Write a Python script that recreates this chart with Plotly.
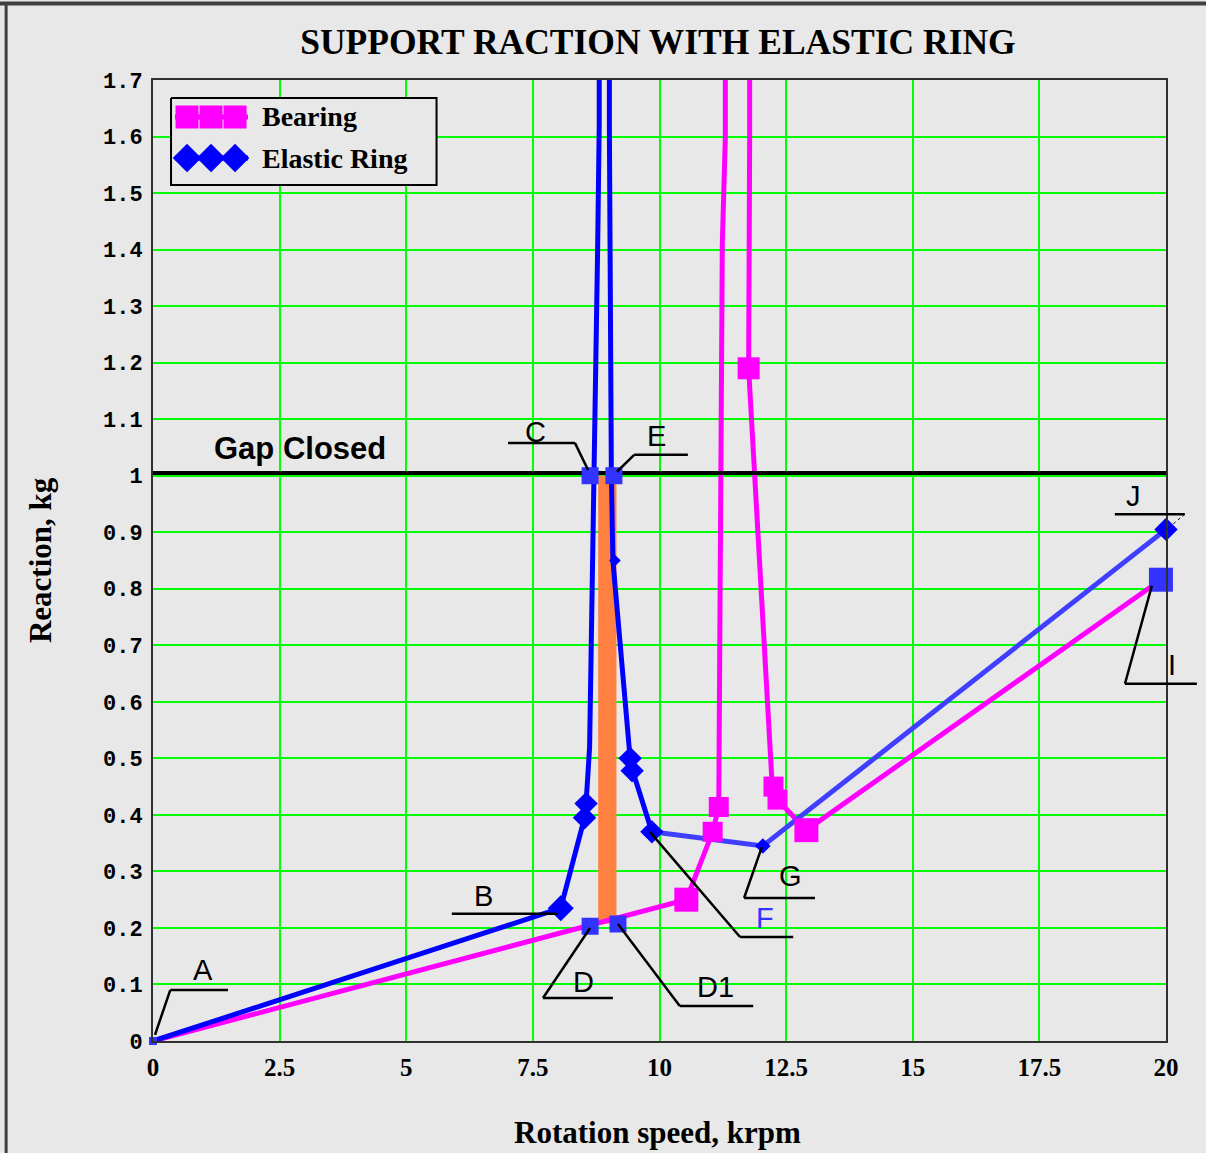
import plotly.graph_objects as go

# ---------------- data ----------------
bearing_x = [0, 10.53, 11.05, 11.17, 11.24, 11.30, 11.30, 11.78, 11.78, 11.76, 12.22, 12.25, 12.33, 12.90, 19.90]
bearing_y = [0, 0.25, 0.37, 0.414, 1.41, 1.60, 2.20, 2.20, 1.60, 1.19, 0.46, 0.45, 0.427, 0.373, 0.816]

bearing_mk_x = [10.53, 11.05, 11.17, 11.76, 12.25, 12.33, 12.90]
bearing_mk_y = [0.25, 0.37, 0.414, 1.19, 0.45, 0.427, 0.373]
bearing_mk_size = [24, 20, 20, 22, 20, 20, 24]

ring_x = [0, 8.05, 8.52, 8.55, 8.62, 8.66, 8.70, 8.74, 8.78, 8.81, 8.81, 9.01, 9.01, 9.05, 9.08, 9.17, 9.27, 9.42, 9.47, 9.85]
ring_y = [0, 0.235, 0.395, 0.42, 0.52, 0.72, 1.0, 1.21, 1.41, 1.62, 2.20, 2.20, 1.62, 1.0, 0.85, 0.757, 0.656, 0.5, 0.478, 0.37]

ring2_x = [9.85, 12.04, 20.0]
ring2_y = [0.37, 0.345, 0.905]

ring_mk_x = [8.05, 8.52, 8.55, 9.12, 9.42, 9.46, 9.85, 12.04, 20.0]
ring_mk_y = [0.235, 0.395, 0.42, 0.85, 0.50, 0.478, 0.37, 0.345, 0.905]
ring_mk_size = [20, 18, 18, 9, 18, 18, 18, 12, 18]

point_x = [8.63, 9.10, 8.63, 9.18, 19.90]
point_y = [1.0, 1.0, 0.203, 0.207, 0.816]
point_size = [17, 17, 17, 17, 24]

gap_x = [0, 20]
gap_y = [1.005, 1.005]

band_x = [8.79, 9.15, 9.15, 8.79]
band_y = [0.205, 0.21, 1.0, 1.0]

x_ticks = [0, 2.5, 5, 7.5, 10, 12.5, 15, 17.5, 20]
x_tick_text = ["0", "2.5", "5", "7.5", "10", "12.5", "15", "17.5", "20"]
y_ticks = [i / 10 for i in range(18)]
y_tick_text = ["0", "0.1", "0.2", "0.3", "0.4", "0.5", "0.6", "0.7", "0.8", "0.9",
               "1", "1.1", "1.2", "1.3", "1.4", "1.5", "1.6", "1.7"]

# point labels: text, x, y, colour
label_text = ["A", "B", "C", "E", "D", "D1", "F", "G", "I", "J"]
label_x = [0.99, 6.52, 7.56, 9.95, 8.49, 11.10, 12.08, 12.58, 20.12, 19.35]
label_y = [0.126, 0.256, 1.077, 1.070, 0.104, 0.096, 0.218, 0.292, 0.665, 0.964]
label_color = ["black"] * 6 + ["#3333ff"] + ["black"] * 3

# leader polylines for the labels
leader_x = [[0.04, 0.34, 1.48], [5.90, 7.98], [7.01, 8.33, 8.59], [9.16, 9.50, 10.56],
            [8.63, 7.70, 9.08], [9.18, 10.40, 11.85], [9.81, 11.59, 12.64],
            [12.02, 11.67, 13.07], [19.72, 19.19, 20.61], [18.99, 20.37]]
leader_y = [[0.011, 0.09, 0.09], [0.225, 0.225], [1.058, 1.058, 1.01], [1.007, 1.037, 1.037],
            [0.20, 0.076, 0.076], [0.207, 0.062, 0.062], [0.37, 0.184, 0.184],
            [0.343, 0.253, 0.253], [0.805, 0.632, 0.632], [0.932, 0.932]]
j_dash_x = [20.37, 20.0]
j_dash_y = [0.932, 0.904]

X_MAX, Y_MAX = 20.0, 1.7
BG = "#e8e8e8"
PINK = "#ff00ff"
BLUE = "#0000ff"
LBLUE = "#3f3fff"
SQ = "#3333ff"


def px(v):
    return v / X_MAX


def py(v):
    return v / Y_MAX


fig = go.Figure()

# orange band between C-D and E-D1
fig.add_trace(go.Scatter(x=band_x, y=band_y, fill="toself", fillcolor="#ff8040",
                         mode="lines", line=dict(width=0), hoverinfo="skip", showlegend=False))
# bearing curve
fig.add_trace(go.Scatter(x=bearing_x, y=bearing_y, mode="lines",
                         line=dict(color=PINK, width=5), showlegend=False))
# elastic ring curve
fig.add_trace(go.Scatter(x=ring_x, y=ring_y, mode="lines",
                         line=dict(color=BLUE, width=5), showlegend=False))
fig.add_trace(go.Scatter(x=ring2_x, y=ring2_y, mode="lines",
                         line=dict(color=LBLUE, width=5), showlegend=False))
# gap closed line
fig.add_trace(go.Scatter(x=gap_x, y=gap_y, mode="lines",
                         line=dict(color="black", width=4), showlegend=False))
# markers
fig.add_trace(go.Scatter(x=bearing_mk_x, y=bearing_mk_y, mode="markers", cliponaxis=False,
                         marker=dict(symbol="square", color=PINK, size=bearing_mk_size, opacity=1,
                                     line=dict(width=0)),
                         showlegend=False))
fig.add_trace(go.Scatter(x=ring_mk_x, y=ring_mk_y, mode="markers", cliponaxis=False,
                         marker=dict(symbol="diamond", color=BLUE, size=ring_mk_size, opacity=1,
                                     line=dict(width=0)),
                         showlegend=False))
fig.add_trace(go.Scatter(x=point_x, y=point_y, mode="markers", cliponaxis=False,
                         marker=dict(symbol="square", color=SQ, size=point_size, opacity=1,
                                     line=dict(width=0)),
                         showlegend=False))
fig.add_trace(go.Scatter(x=[0], y=[0], mode="markers", cliponaxis=False,
                         marker=dict(symbol="square", color=SQ, size=8, opacity=1), showlegend=False))

# ---- custom legend drawn on an overlay axis (0..1 both ways) ----
leg_box_x = [0.0178, 0.2799, 0.2799, 0.0178, 0.0178]
leg_box_y = [0.9813, 0.9813, 0.8907, 0.8907, 0.9813]
fig.add_trace(go.Scatter(x=leg_box_x, y=leg_box_y, xaxis="x2", yaxis="y2", fill="toself",
                         fillcolor=BG, mode="lines", line=dict(color="black", width=2),
                         hoverinfo="skip", showlegend=False))
leg_sym_x = [0.0336, 0.0573, 0.0810]
fig.add_trace(go.Scatter(x=[0.0217, 0.0938], y=[0.9615, 0.9615], xaxis="x2", yaxis="y2",
                         mode="lines", line=dict(color=PINK, width=5), showlegend=False))
fig.add_trace(go.Scatter(x=leg_sym_x, y=[0.9615] * 3, xaxis="x2", yaxis="y2", mode="markers",
                         marker=dict(symbol="square", color=PINK, size=23, opacity=1, line=dict(width=0)),
                         showlegend=False))
fig.add_trace(go.Scatter(x=[0.0217, 0.0938], y=[0.9188, 0.9188], xaxis="x2", yaxis="y2",
                         mode="lines", line=dict(color=BLUE, width=5), showlegend=False))
fig.add_trace(go.Scatter(x=leg_sym_x, y=[0.9188] * 3, xaxis="x2", yaxis="y2", mode="markers",
                         marker=dict(symbol="diamond", color=BLUE, size=22, opacity=1, line=dict(width=0)),
                         showlegend=False))

annotations = [
    dict(text="Bearing", x=0.1056, y=0.9615, xref="paper", yref="paper", xanchor="left",
         yanchor="middle", showarrow=False,
         font=dict(family="Liberation Serif", size=28, color="black", weight="bold")),
    dict(text="Elastic Ring", x=0.1056, y=0.9188, xref="paper", yref="paper", xanchor="left",
         yanchor="middle", showarrow=False,
         font=dict(family="Liberation Serif", size=28, color="black", weight="bold")),
    dict(text="Gap Closed", x=px(2.9), y=py(1.049), xref="paper", yref="paper", showarrow=False,
         xanchor="center", yanchor="middle",
         font=dict(family="Liberation Sans", size=31, color="black", weight="bold")),
    dict(text="Rotation speed, krpm", x=0.4985, y=-0.0957, xref="paper", yref="paper",
         xanchor="center", yanchor="middle",
         showarrow=False, font=dict(family="Liberation Serif", size=31, color="black", weight="bold")),
    dict(text="Reaction, kg", x=-0.1115, y=0.5005, xref="paper", yref="paper", textangle=-90,
         xanchor="center", yanchor="middle",
         showarrow=False, font=dict(family="Liberation Serif", size=31, color="black", weight="bold")),
]
for t, xx, yy, c in zip(label_text, label_x, label_y, label_color):
    annotations.append(dict(text=t, x=px(xx), y=py(yy), xref="paper", yref="paper", showarrow=False,
                            xanchor="center", yanchor="middle",
                            font=dict(family="Liberation Sans", size=29, color=c)))

shapes = []
for lx, ly in zip(leader_x, leader_y):
    for i in range(len(lx) - 1):
        shapes.append(dict(type="line", xref="paper", yref="paper",
                           x0=px(lx[i]), y0=py(ly[i]), x1=px(lx[i + 1]), y1=py(ly[i + 1]),
                           line=dict(color="black", width=2.5)))
shapes.append(dict(type="line", xref="paper", yref="paper",
                   x0=px(j_dash_x[0]), y0=py(j_dash_y[0]), x1=px(j_dash_x[1]), y1=py(j_dash_y[1]),
                   line=dict(color="black", width=1, dash="dot")))
# outer frame (left and top edges)
shapes.append(dict(type="line", xref="paper", yref="paper", x0=-0.145, y0=1.08, x1=-0.145, y1=-0.12,
                   line=dict(color="#404040", width=3)))
shapes.append(dict(type="line", xref="paper", yref="paper", x0=-0.152, y0=1.0795, x1=1.04, y1=1.0795,
                   line=dict(color="#404040", width=4)))

fig.update_layout(
    width=1206, height=1153,
    margin=dict(l=153, r=40, t=80, b=112),
    paper_bgcolor=BG, plot_bgcolor=BG,
    title=dict(text="SUPPORT RACTION WITH ELASTIC RING", x=0.4985, xref="paper",
               y=1 - 42 / 1153, yref="container", xanchor="center", yanchor="middle",
               font=dict(family="Liberation Serif", size=35.5, color="black", weight="bold")),
    xaxis=dict(range=[0, X_MAX], tickvals=x_ticks, ticktext=x_tick_text, showgrid=True,
               gridcolor="#00ff00", gridwidth=2, zeroline=False, showline=True, mirror=True,
               linecolor="#303030", linewidth=2, ticks="", ticklabelstandoff=3,
               tickfont=dict(family="Liberation Serif", size=25, color="black", weight="bold")),
    yaxis=dict(range=[0, Y_MAX], tickvals=y_ticks, ticktext=y_tick_text, showgrid=True,
               gridcolor="#00ff00", gridwidth=2, zeroline=False, showline=True, mirror=True,
               linecolor="#303030", linewidth=2, ticks="", ticklabelstandoff=4,
               tickfont=dict(family="Liberation Mono", size=22, color="black", weight="bold")),
    xaxis2=dict(range=[0, 1], overlaying="x", visible=False),
    yaxis2=dict(range=[0, 1], overlaying="y", visible=False),
    annotations=annotations,
    shapes=shapes,
    showlegend=False,
)

fig.write_html("out.html", config={"displayModeBar": False},
               post_script="document.body.style.margin='0';document.body.style.overflow='hidden';")
